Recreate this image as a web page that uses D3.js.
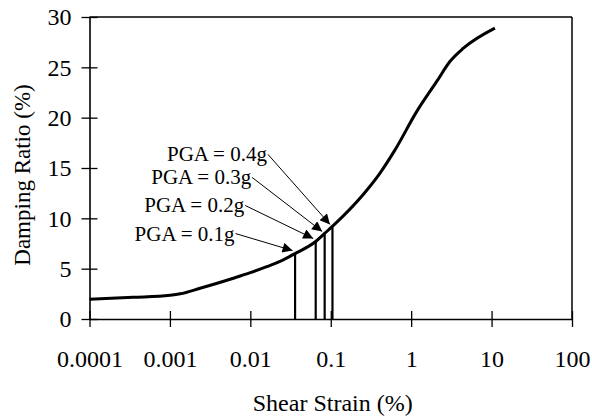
<!DOCTYPE html>
<html><head><meta charset="utf-8">
<script src="https://cdn.jsdelivr.net/npm/d3@7"></script>
<style>
html,body{margin:0;padding:0;background:#fff;}
text{font-family:"Liberation Serif","Times New Roman",serif;fill:#000;}
</style></head>
<body><svg id="c" width="592" height="418"></svg>
<script>
// ---- data ----
const strain  = [0.0001,0.00035,0.001,0.00134,0.00237,0.00615,0.01,0.016,0.023,0.036,0.065,0.084,0.108,0.255,0.41,0.63,1.17,2.08,3.05,4.46,11];
const damping = [1.96,2.15,2.36,2.5,3.05,4.05,4.6,5.2,5.7,6.5,7.7,8.5,9.3,12.4,14.5,16.8,20.6,23.6,25.6,26.9,28.9];
const pgaLabels  = ["PGA = 0.1g","PGA = 0.2g","PGA = 0.3g","PGA = 0.4g"];
const pgaStrain  = [0.036,0.065,0.084,0.105];
const pgaDamping = [6.5,7.7,8.4,9.1];
const xTicks = [0.0001,0.001,0.01,0.1,1,10,100];
const xTickLabels = ["0.0001","0.001","0.01","0.1","1","10","100"];
const yTicks = [0,5,10,15,20,25,30];
const xTitle = "Shear Strain (%)";
const yTitle = "Damping Ratio (%)";

// ---- layout ----
const svg = d3.select("#c");
const L=89.5, R=572, T=17, B=319;
const x = d3.scaleLog().domain([0.0001,100]).range([L,R]);
const y = d3.scaleLinear().domain([0,30]).range([B,T]);

// frame top/right
svg.append("line").attr("x1",L).attr("x2",R).attr("y1",T).attr("y2",T).attr("stroke","#000").attr("stroke-width",1.5);
svg.append("line").attr("x1",R).attr("x2",R).attr("y1",T).attr("y2",B).attr("stroke","#000").attr("stroke-width",1.5);

// x axis
const xa = svg.append("g").attr("transform",`translate(0,${B})`)
  .call(d3.axisBottom(x).tickValues(xTicks).tickFormat((d,i)=>xTickLabels[i]).tickSize(8).tickSizeOuter(0).tickPadding(23));
xa.select(".domain").attr("stroke-width",1.6);
xa.selectAll(".tick line").attr("y1",-8).attr("y2",8).attr("stroke-width",1.3);
xa.selectAll("text").attr("font-size",24).attr("font-family","Liberation Serif").attr("fill","#000");

// y axis
const ya = svg.append("g").attr("transform",`translate(${L},0)`)
  .call(d3.axisLeft(y).tickValues(yTicks).tickSize(8).tickSizeOuter(0).tickPadding(10));
ya.select(".domain").attr("stroke-width",1.6);
ya.selectAll(".tick line").attr("x1",-8).attr("x2",8).attr("stroke-width",1.3);
ya.selectAll("text").attr("font-size",24).attr("font-family","Liberation Serif").attr("fill","#000");

// titles
svg.append("text").attr("x",(L+R)/2+2).attr("y",411).attr("text-anchor","middle").attr("font-size",24).text(xTitle);
svg.append("text").attr("transform",`translate(30,${(T+B)/2+7}) rotate(-90)`).attr("text-anchor","middle").attr("font-size",23).text(yTitle);

// curve
const pts = strain.map((s,i)=>[x(s),y(damping[i])]);
svg.append("path").attr("d",d3.line().curve(d3.curveMonotoneX)(pts))
  .attr("fill","none").attr("stroke","#000").attr("stroke-width",3).attr("stroke-linejoin","round");

// PGA vertical lines
pgaStrain.forEach((s,i)=>{
  svg.append("line").attr("x1",x(s)).attr("x2",x(s)).attr("y1",y(0)).attr("y2",y(pgaDamping[i]))
    .attr("stroke","#000").attr("stroke-width",2.2);
});

// arrows + labels (offsets from arrow tip)
svg.append("defs").append("marker").attr("id","ah").attr("viewBox","0 0 10 10")
  .attr("refX",10).attr("refY",5).attr("markerWidth",13).attr("markerHeight",10)
  .attr("markerUnits","userSpaceOnUse").attr("orient","auto")
  .append("path").attr("d","M0,0L10,5L0,10z").attr("fill","#000");
const offs = [[-57,-17],[-68,-33],[-70,-54],[-62,-70]];
pgaStrain.forEach((s,i)=>{
  const tx = x(s)-2.5, ty = y(pgaDamping[i])-3;
  const sx = tx+offs[i][0], sy = ty+offs[i][1];
  svg.append("line").attr("x1",sx).attr("y1",sy).attr("x2",tx).attr("y2",ty)
    .attr("stroke","#000").attr("stroke-width",1).attr("marker-end","url(#ah)");
  svg.append("text").attr("x",sx-1).attr("y",sy+7).attr("text-anchor","end").attr("font-size",21).text(pgaLabels[i]);
});
</script></body></html>
